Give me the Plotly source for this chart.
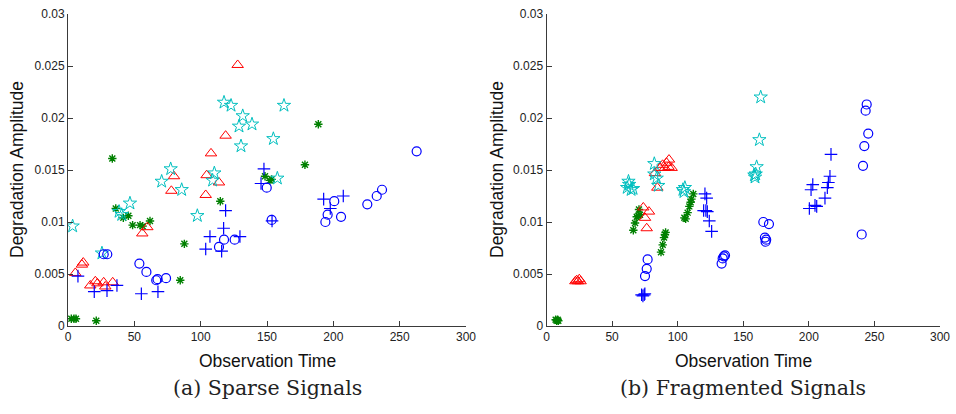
import plotly.graph_objects as go
from plotly.subplots import make_subplots

# ---------------- Panel (a): Sparse Signals ----------------
a_red_t = [5.5, 10.5, 11.5, 16.8, 20.6, 22.2, 26.9, 28.1, 33.7, 56, 59.8, 77.9, 79.9, 103.8, 104.5, 107.8, 113.8, 118.8, 127.9]
a_red_v = [0.0051, 0.0059, 0.0061, 0.0039, 0.0043, 0.0041, 0.0042, 0.0038, 0.0042, 0.0089, 0.0095, 0.0130, 0.0144, 0.0126, 0.0145, 0.0166, 0.0138, 0.0183, 0.0251]

a_cyan_t = [3.5, 25.6, 38.5, 40.5, 46.7, 70.6, 77.4, 85.7, 97.5, 109, 110.3, 117.6, 122.9, 128.9, 130.4, 131.7, 138.7, 154.8, 157.8, 162.8]
a_cyan_v = [0.0096, 0.0070, 0.0110, 0.0107, 0.0118, 0.0139, 0.0151, 0.0131, 0.0106, 0.0140, 0.0147, 0.0215, 0.0212, 0.0192, 0.0173, 0.0202, 0.0194, 0.0180, 0.0142, 0.0212]

a_green_t = [2.5, 4.5, 6, 21.3, 33.4, 36, 41.7, 45.5, 48.7, 54.3, 56.3, 61.8, 84.6, 87.7, 114.8, 148.5, 152.2, 153.5, 178.6, 188.7]
a_green_v = [0.0007, 0.0007, 0.0007, 0.0005, 0.0161, 0.0113, 0.0104, 0.0106, 0.0097, 0.0097, 0.0096, 0.0101, 0.0044, 0.0079, 0.0120, 0.0144, 0.0140, 0.0141, 0.0155, 0.0194]

a_plus_t = [7.5, 19.8, 29.4, 36.9, 55.3, 67.8, 103.8, 107, 115.8, 117.3, 118.8, 129.6, 145.5, 147.7, 153.8, 192.7, 197.7, 207.5]
a_plus_v = [0.0048, 0.0033, 0.0034, 0.0039, 0.0031, 0.0033, 0.0074, 0.0086, 0.0072, 0.0094, 0.0111, 0.0086, 0.0137, 0.0151, 0.0101, 0.0122, 0.0113, 0.0125]

a_circ_t = [26.9, 29.6, 53.8, 59.1, 66.5, 67.5, 73.9, 113.8, 117.6, 125.6, 149.8, 153.5, 194, 195.7, 200.7, 205.8, 225.6, 232.7, 236.7, 262.8]
a_circ_v = [0.0069, 0.0069, 0.0060, 0.0052, 0.0044, 0.0045, 0.0046, 0.0076, 0.0083, 0.0083, 0.0133, 0.0102, 0.0100, 0.0107, 0.0120, 0.0105, 0.0117, 0.0125, 0.0131, 0.0168]

# ---------------- Panel (b): Fragmented Signals ----------------
b_green_t = [7, 7.8, 8.5, 9, 66.2, 67.5, 68.8, 70, 70.5, 71.3, 87.3, 88.6, 89.6, 90.3, 90.8, 105.1, 106.1, 107.6, 108.9, 109.9, 110.5, 111.9]
b_green_v = [0.0006, 0.0005, 0.0006, 0.0005, 0.0092, 0.0099, 0.0105, 0.0106, 0.0112, 0.0107, 0.0071, 0.0078, 0.0085, 0.0088, 0.0090, 0.0104, 0.0103, 0.0109, 0.0115, 0.0119, 0.0122, 0.0127]

b_red_t = [22, 23, 24, 25, 26, 73.8, 75.1, 76.4, 78.1, 82.7, 84.5, 86.5, 88.5, 90.3, 91.5, 93, 93.4, 95.4]
b_red_v = [0.0043, 0.0044, 0.0043, 0.0045, 0.0043, 0.0114, 0.0104, 0.0094, 0.0110, 0.0147, 0.0133, 0.0152, 0.0155, 0.0152, 0.0157, 0.0153, 0.0160, 0.0152]

b_cyan_t = [61.5, 62.5, 63, 64.5, 66, 82.2, 82.2, 85.2, 84, 104, 104.8, 105.5, 159, 159.5, 158.5, 160.2, 162.3, 163.3]
b_cyan_v = [0.0133, 0.0139, 0.0136, 0.0131, 0.0132, 0.0156, 0.0146, 0.0135, 0.0142, 0.0131, 0.0129, 0.0133, 0.0143, 0.0146, 0.0145, 0.0153, 0.0179, 0.0220]

b_plus_t = [72.5, 73.5, 74.5, 75, 119.8, 120.8, 121.5, 122.1, 122.6, 124.1, 125.9, 200.4, 201.7, 203, 204.7, 206, 212.3, 214.1, 214.9, 216.1, 216.9]
b_plus_v = [0.0030, 0.0029, 0.0030, 0.0031, 0.0111, 0.0127, 0.0111, 0.0123, 0.0110, 0.0101, 0.0091, 0.0113, 0.0131, 0.0136, 0.0116, 0.0115, 0.0123, 0.0133, 0.0138, 0.0144, 0.0165]

b_circ_t = [75.1, 76.4, 77.1, 133.5, 134.3, 135.2, 136.1, 165.3, 166.5, 167, 167.5, 169.6, 240.3, 241.3, 242.3, 243.3, 244.1, 245.3]
b_circ_v = [0.0048, 0.0055, 0.0064, 0.0060, 0.0065, 0.0067, 0.0068, 0.0100, 0.0085, 0.0081, 0.0083, 0.0098, 0.0088, 0.0154, 0.0173, 0.0207, 0.0213, 0.0185]

x_ticks = [0, 50, 100, 150, 200, 250, 300]
y_ticks = [0, 0.005, 0.01, 0.015, 0.02, 0.025, 0.03]
y_tick_labels = ["0", "0.005", "0.01", "0.015", "0.02", "0.025", "0.03"]
captions = ["(a) Sparse Signals", "(b) Fragmented Signals"]
x_title = "Observation Time"
y_title = "Degradation Amplitude"

RED = "rgb(255,0,0)"
CYAN = "rgb(0,191,191)"
GREEN = "rgb(0,128,0)"
BLUE = "rgb(0,0,255)"

fig = make_subplots(rows=1, cols=2)

def add_series(col, t, v, symbol, color, size, lw=1):
    fig.add_trace(go.Scatter(
        x=t, y=v, mode="markers",
        marker=dict(symbol=symbol, size=size, color=color,
                    line=dict(color=color, width=lw)),
        showlegend=False, hoverinfo="skip"), row=1, col=col)

panels = [
    (1, a_green_t, a_green_v, a_red_t, a_red_v, a_cyan_t, a_cyan_v, a_plus_t, a_plus_v, a_circ_t, a_circ_v),
    (2, b_green_t, b_green_v, b_red_t, b_red_v, b_cyan_t, b_cyan_v, b_plus_t, b_plus_v, b_circ_t, b_circ_v),
]
for col, gt, gv, rt, rv, ct, cv, pt, pv, ot, ov in panels:
    add_series(col, gt, gv, "asterisk-open", GREEN, 7, 1.4)
    add_series(col, rt, rv, "triangle-up-open", RED, 10)
    add_series(col, ct, cv, "star-open", CYAN, 10)
    add_series(col, pt, pv, "cross-thin-open", BLUE, 9, 1.2)
    add_series(col, ot, ov, "circle-open", BLUE, 9, 1.2)

W, H = 956, 414
T, B = 14, 88
PH = H - T - B
axis_common = dict(showline=True, linecolor="#3a3a3a", linewidth=1, mirror=False,
                   ticks="inside", ticklen=5, tickcolor="#3a3a3a", showgrid=False,
                   zeroline=False, tickfont=dict(family="Liberation Sans, Arial", size=12, color="#222"))

fig.update_layout(
    width=W, height=H, paper_bgcolor="white", plot_bgcolor="white",
    margin=dict(l=0, r=0, t=T, b=B, autoexpand=False),
    xaxis=dict(domain=[68/W, 466/W], range=[0, 300], tickvals=x_ticks, **axis_common),
    xaxis2=dict(domain=[546.5/W, 940/W], range=[0, 300], tickvals=x_ticks, **axis_common),
    yaxis=dict(domain=[0, 1], range=[0, 0.03], tickvals=y_ticks, ticktext=y_tick_labels, **axis_common),
    yaxis2=dict(domain=[0, 1], range=[0, 0.03], tickvals=y_ticks, ticktext=y_tick_labels, **axis_common),
)

def py(p):
    return (H - B - p) / PH

anns = []
for cx, ycx, cap in [(267, 17, captions[0]), (743, 497, captions[1])]:
    anns.append(dict(x=cx/W, y=py(361), xref="paper", yref="paper", text=x_title, showarrow=False,
                     font=dict(family="Liberation Sans, Arial", size=17.5, color="#111"),
                     xanchor="center", yanchor="middle"))
    anns.append(dict(x=ycx/W, y=py(170), xref="paper", yref="paper", text=y_title, showarrow=False,
                     textangle=-90, font=dict(family="Liberation Sans, Arial", size=17.5, color="#111"),
                     xanchor="center", yanchor="middle"))
    anns.append(dict(x=cx/W, y=py(388), xref="paper", yref="paper", text=cap, showarrow=False,
                     font=dict(family="DejaVu Serif, Liberation Serif", size=20.5, color="#222"),
                     xanchor="center", yanchor="middle"))
fig.update_layout(annotations=anns)

fig.write_html("out.html", config={"displayModeBar": False},
               post_script="document.body.style.margin='0';")
